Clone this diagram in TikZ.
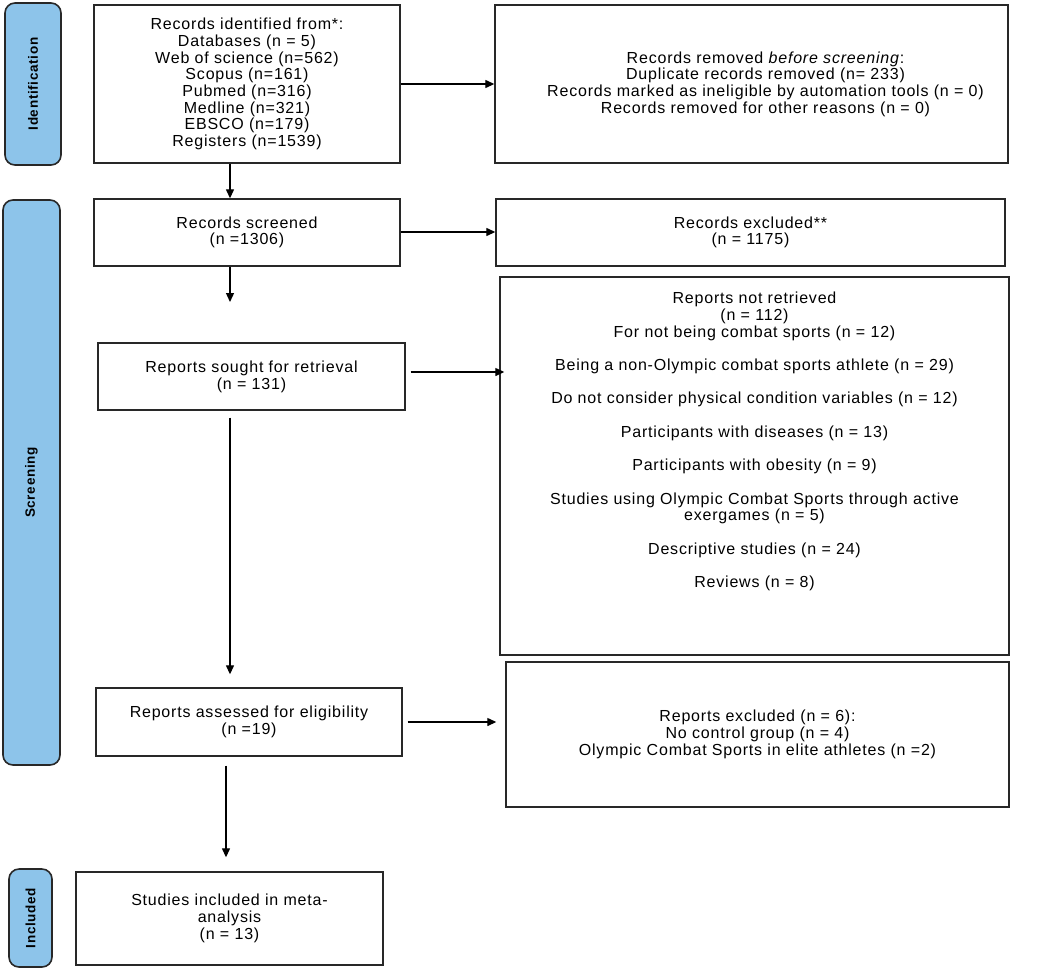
\documentclass[tikz,border=0pt]{standalone}
\usepackage{fontspec}
\setmainfont[LetterSpace=5]{Liberation Sans}
\usetikzlibrary{arrows.meta,positioning}
\definecolor{stage}{RGB}{141,196,234}
\definecolor{edge}{RGB}{40,40,40}
\begin{document}
\begin{tikzpicture}[x=1pt, y=-1pt, >={Stealth[length=9pt,width=8pt,inset=0pt]}]
\tikzstyle{box}=[rectangle,draw=edge,line width=1.4pt,fill=white,align=center,inner sep=0pt,
  font=\fontsize{16}{16.7}\selectfont]
\tikzstyle{stage}=[rectangle,rounded corners=10pt,draw=edge,line width=1.6pt,fill=stage,inner sep=0pt]
\tikzstyle{tag}=[rotate=90,font=\bfseries\fontsize{13.5}{15}\selectfont]
\tikzstyle{flow}=[->,line width=1.3pt,draw=black]
\useasboundingbox (0,0) rectangle (1038,970);
% side bars
\node[stage,minimum width=56,minimum height=162](sid) at (33,84) {};
\node[tag] at (sid) {Identification};
\node[stage,minimum width=57,minimum height=565](sscr) at (31.5,482.5) {};
\node[tag] at (sscr) {Screening};
\node[stage,minimum width=43,minimum height=98](sinc) at (30.5,918) {};
\node[tag] at (sinc) {Included};
% boxes
\node[box,minimum width=306,minimum height=158](ident) at (247,84)
  {Records identified from*:\\Databases (n = 5)\\Web of science (n=562)\\Scopus (n=161)\\
   Pubmed (n=316)\\Medline (n=321)\\EBSCO (n=179)\\Registers (n=1539)};
\node[box,minimum width=513,minimum height=158](removed) at (751.5,84)
  {\hspace*{28pt}Records removed \textit{before screening}:\\\hspace*{28pt}Duplicate records removed (n= 233)\\
   \hspace*{28pt}Records marked as ineligible by automation tools (n = 0)\\\hspace*{28pt}Records removed for other reasons (n = 0)};
\node[box,minimum width=306,minimum height=67](screened) at (247,232.5)
  {Records screened\\(n =1306)};
\node[box,minimum width=509,minimum height=67](excluded) at (750.5,232.5)
  {Records excluded**\\(n = 1175)};
\node[box,minimum width=307,minimum height=67](sought) at (251.5,376.5)
  {Reports sought for retrieval\\(n = 131)};
\node[box,minimum width=509,minimum height=378](notret) at (754.5,466) {};
\node[box,draw=none,fill=none,below=15pt of notret.north](notrettxt)
  {Reports not retrieved\\(n = 112)\\For not being combat sports (n = 12)\\[16.7pt]
   Being a non-Olympic combat sports athlete (n = 29)\\[16.7pt]
   Do not consider physical condition variables (n = 12)\\[16.7pt]
   Participants with diseases (n = 13)\\[16.7pt]
   Participants with obesity (n = 9)\\[16.7pt]
   Studies using Olympic Combat Sports through active\\exergames (n = 5)\\[16.7pt]
   Descriptive studies (n = 24)\\[16.7pt]
   Reviews (n = 8)};
\node[box,minimum width=306,minimum height=68](assessed) at (249,722)
  {Reports assessed for eligibility\\(n =19)};
\node[box,minimum width=503,minimum height=145](repexcl) at (757.5,734.5)
  {Reports excluded (n = 6):\\No control group (n = 4)\\Olympic Combat Sports in elite athletes (n =2)};
\node[box,minimum width=307,minimum height=93](included) at (229.5,918.5)
  {Studies included in meta-\\analysis\\(n = 13)};
% connectors
\coordinate (spine) at (230,0);
\coordinate (spinelow) at (226,0);
\coordinate (gap) at (230,302);
\draw[flow] (ident.east) -- (removed.west);
\draw[flow] (ident.south -| spine) -- (screened.north -| spine);
\draw[flow] ([yshift=0.5pt]screened.east) -- ([yshift=0.5pt]excluded.west);
\draw[flow] (screened.south -| spine) -- (gap);
\draw[flow] ([xshift=5pt,yshift=4.5pt]sought.east) -- ([xshift=5pt,yshift=4.5pt]sought.east -| notret.west);
\draw[flow] ([yshift=-7pt]sought.south -| spine) -- ([yshift=13pt]assessed.north -| spine);
\draw[flow] ([xshift=5pt]assessed.east) -- ([xshift=-9pt]assessed.east -| repexcl.west);
\draw[flow] ([yshift=-9pt]assessed.south -| spinelow) -- ([yshift=14pt]included.north -| spinelow);
\end{tikzpicture}
\end{document}
